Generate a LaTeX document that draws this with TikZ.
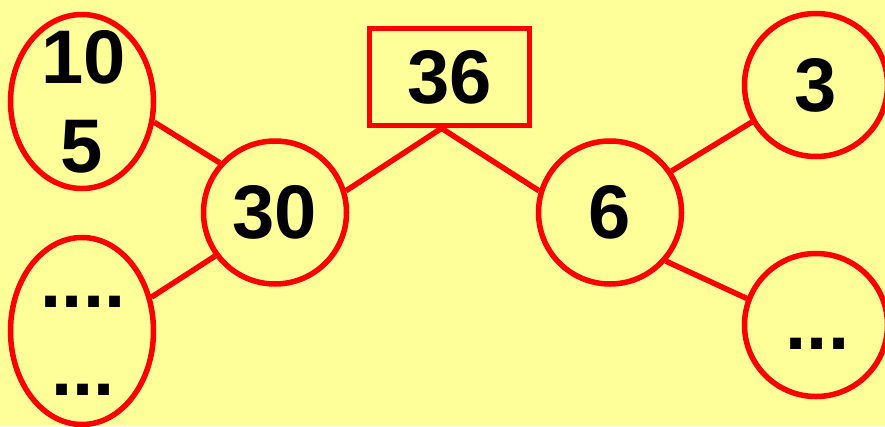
\documentclass[tikz,border=0pt]{standalone}
\usepackage{fontspec}
\setmainfont{Liberation Sans}
\usetikzlibrary{shapes.geometric}
\definecolor{bgyellow}{RGB}{255,255,153}
\definecolor{linered}{RGB}{255,0,0}
\begin{document}
\begin{tikzpicture}[x=1pt,y=-1pt,
  every node/.style={font=\fontsize{76}{89}\selectfont\bfseries, text=black},
  ring/.style={draw=linered, line width=5.5pt, circle, minimum size=143pt, inner sep=0pt},
  oval/.style={draw=linered, line width=5.5pt, ellipse, minimum width=143pt, inner sep=0pt},
  box/.style={draw=linered, line width=5.5pt, rectangle, minimum width=160pt, minimum height=97pt, inner sep=0pt},
  txt/.style={anchor=base, inner sep=0pt},
  link/.style={draw=linered, line width=5.5pt}]
\fill[bgyellow] (0,0) rectangle (885,426);
\useasboundingbox (0,0) rectangle (885,426);
\node[box] (top) at (449.5,77) {36};
\node[ring] (c30) at (275,212.5) {30};
\node[ring] (c6) at (610,212.5) {6};
\node[ring] (c3) at (816,85) {3};
\node[ring] (cr) at (816,325) {};
\node[oval, minimum height=174pt] (e1) at (82,101.5) {};
\node[oval, minimum height=187pt] (e2) at (82,331) {};
\node[txt] (t1a) at (83.5,83) {10};
\node[txt] (t1b) at (82,172) {5};
\node[txt] (t2a) at (83,307) {....};
\node[txt] (t2b) at (83,395) {...};
\node[txt] (tr) at (817.5,349) {...};
\coordinate (apex) at ([xshift=-8pt]top.south);
\draw[link] (apex) -- (c30.17);
\draw[link] (apex) -- (c6.163);
\draw[link] (c30.138) -- (e1.-16);
\draw[link] (c30.216) -- (e2.26);
\draw[link] (c6.34) -- (c3.210);
\draw[link] (c6.-41) -- (cr.159);
\end{tikzpicture}
\end{document}
